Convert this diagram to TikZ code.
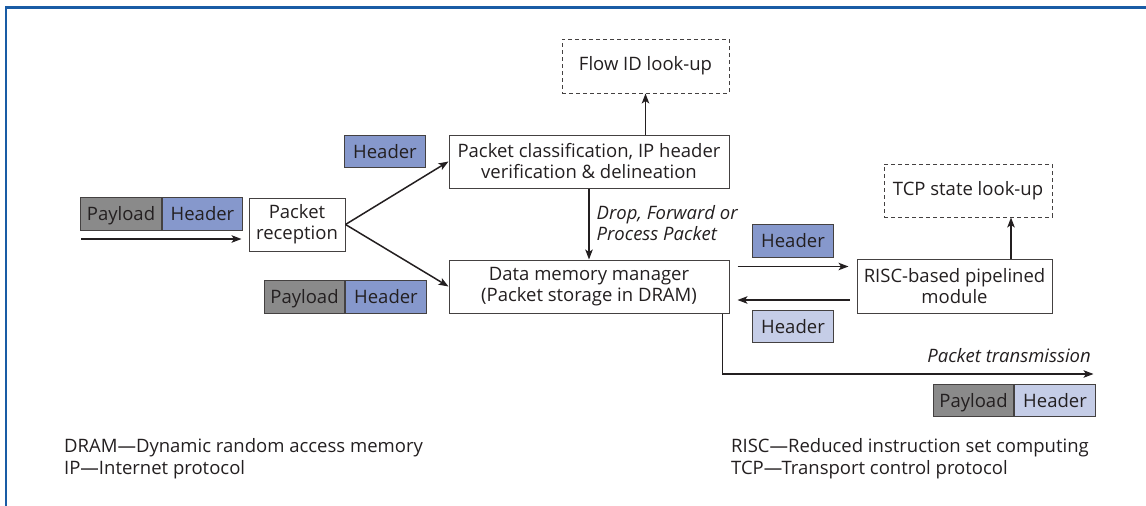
\documentclass[tikz,border=0pt]{standalone}
\usepackage{fontspec}
\setmainfont{Open Sans}
\usetikzlibrary{arrows.meta,positioning}
\definecolor{frameblue}{RGB}{25,92,165}
\definecolor{hdrdark}{RGB}{134,152,204}
\definecolor{hdrlight}{RGB}{197,205,231}
\definecolor{paygray}{RGB}{138,138,138}
\definecolor{ink}{RGB}{35,31,32}
\tikzset{blk/.style={draw=ink!85,line width=1pt,fill=white,align=center,inner sep=0pt,
 text=ink,font=\fontsize{18.5}{21}\selectfont},
 look/.style={blk,dash pattern=on 4pt off 3pt},
 pay/.style={blk,fill=paygray,minimum width=80.5pt,minimum height=32.5pt,text height=14pt,text depth=0.8pt},
 hdr/.style={pay,fill=hdrdark},hdrl/.style={pay,fill=hdrlight},
 arr/.style={-{Stealth[length=10pt,width=7.5pt,inset=2.5pt]},draw=ink,line width=1.5pt},
 note/.style={align=left,text=ink,inner sep=0pt,font=\fontsize{18.5}{21}\selectfont\itshape},
 legend/.style={align=left,text=ink,inner sep=0pt,anchor=west,font=\fontsize{18.5}{22}\selectfont}}

\begin{document}
\begin{tikzpicture}[x=1pt,y=-1pt]
\useasboundingbox (0,0) rectangle (1146,506);
\draw[frameblue,line width=2.4pt] (6,506) -- (6,7.3) -- (1146,7.3);
\node[look,minimum width=167pt,minimum height=54pt] (flow) at (645.5,66) {Flow ID look-up};
\node[blk,minimum width=280pt,minimum height=53pt] (cls) at (589,161.5)
 {Packet classification, IP header\\verification \& delineation};
\node[blk,minimum width=280pt,minimum height=53pt] (dmm) at (589,286.5)
 {Data memory manager\\(Packet storage in DRAM)};
\node[blk,minimum width=96pt,minimum height=53pt] (recv) at (297,224.5) {Packet\\reception};
\node[blk,minimum width=195pt,minimum height=54pt] (risc) at (954.5,286) {RISC-based pipelined\\module};
\node[look,minimum width=168pt,minimum height=53pt] (tcp) at (968,190.5) {TCP state look-up};
\node[hdr] (hdrA) at (385,151.5) {Header};
\node[pay] (payA) at (121,214) {Payload};
\node[hdr,right=0pt of payA] (hdrB) {Header};
\node[pay] (payB) at (304.5,297) {Payload};
\node[hdr,right=0pt of payB] (hdrC) {Header};
\node[hdr] (hdrD) at (793,241) {Header};
\node[hdrl] (hdrE) at (793,326.5) {Header};
\node[pay] (payC) at (973.5,400.5) {Payload};
\node[hdrl,right=0pt of payC] (hdrF) {Header};
\coordinate (in) at (81,239);
\coordinate (out) at (1093.5,374);
\draw[arr,shorten >=7pt] (in) -- (in -| recv.west);
\draw[arr] (recv.east) -- (cls.west);
\draw[arr] (recv.east) -- (dmm.west);
\draw[arr] (cls.north -| flow.south) -- (flow.south);
\draw[arr] (cls.south) -- (dmm.north);
\node[note,anchor=west] (drop) at (596.5,223) {Drop, Forward or\\Process Packet};
\draw[arr,shorten <=8pt,shorten >=8pt] ([yshift=20pt]dmm.east) -- ([yshift=20pt]dmm.east -| risc.west);
\draw[arr,shorten <=7pt,shorten >=8pt] ([yshift=-14pt]risc.west) -- ([yshift=-14pt]risc.west -| dmm.east);
\draw[arr] ([xshift=56.5pt]risc.north) -- ([xshift=56.5pt]risc.north |- tcp.south);
\draw[arr] ([xshift=-7pt]dmm.south east) |- (out);
\node[note,anchor=east] (tx) at (1091,356) {Packet transmission};
\node[legend] (legL) at (64,459) {DRAM—Dynamic random access memory\\IP—Internet protocol};
\node[legend] (legR) at (731,459) {RISC—Reduced instruction set computing\\TCP—Transport control protocol};
\end{tikzpicture}
\end{document}
